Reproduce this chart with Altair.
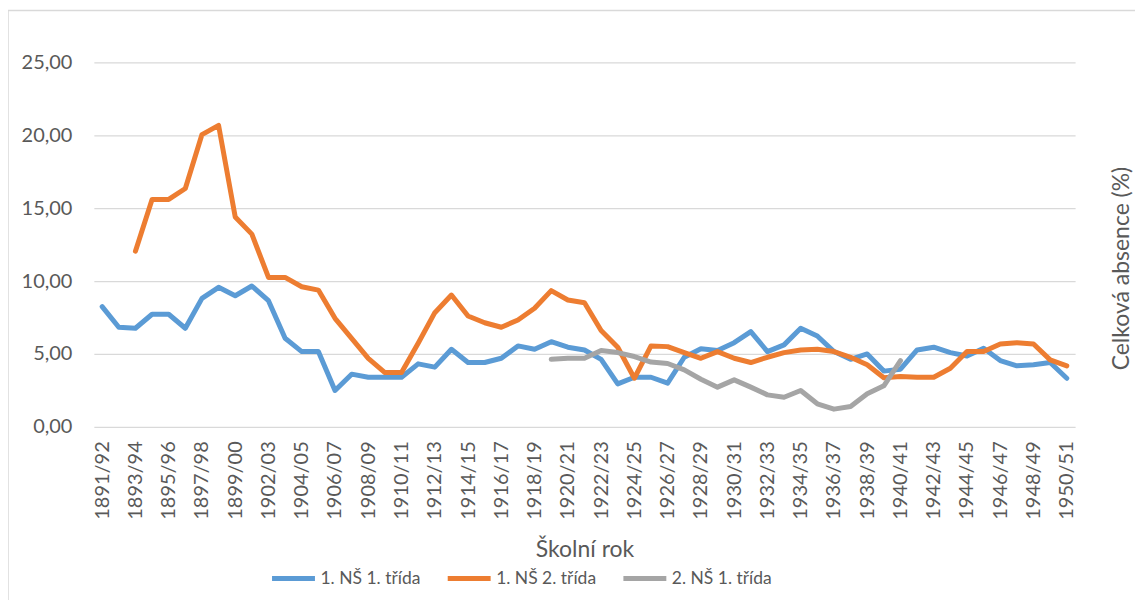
import altair as alt
import pandas as pd

years = ["1891/92", "1892/93", "1893/94", "1894/95", "1895/96", "1896/97", "1897/98", "1898/99",
         "1899/00", "1900/01"] + [f"{y}/{str(y + 1)[-2:]}" for y in range(1902, 1951)]

series_names = ["1. NŠ 1. třída", "1. NŠ 2. třída", "2. NŠ 1. třída"]
series_colors = ["#5B9BD5", "#ED7D31", "#A5A5A5"]

ns1_t1 = [8.24, 6.83, 6.76, 7.72, 7.72, 6.76, 8.81, 9.57, 8.99, 9.66,
          8.65, 6.07, 5.16, 5.16, 2.49, 3.61, 3.40, 3.40, 3.40, 4.32,
          4.09, 5.32, 4.41, 4.41, 4.70, 5.55, 5.32, 5.84, 5.46, 5.27,
          4.63, 2.94, 3.40, 3.40, 2.99, 4.77, 5.36, 5.23, 5.77, 6.53,
          5.16, 5.62, 6.76, 6.23, 5.16, 4.63, 5.00, 3.82, 3.95, 5.27,
          5.46, 5.09, 4.86, 5.39, 4.54, 4.18, 4.25, 4.41, 3.33]

ns1_t2 = [None, None, 12.05, 15.60, 15.60, 16.35, 20.05, 20.68, 14.40, 13.22,
          10.25, 10.25, 9.61, 9.38, 7.44, 6.07, 4.70, 3.72, 3.72, 5.73,
          7.83, 9.04, 7.60, 7.14, 6.83, 7.33, 8.13, 9.34, 8.70, 8.51,
          6.60, 5.46, 3.33, 5.55, 5.50, 5.09, 4.70, 5.16, 4.70, 4.41,
          4.77, 5.09, 5.27, 5.32, 5.16, 4.77, 4.25, 3.36, 3.45, 3.40,
          3.40, 4.02, 5.16, 5.16, 5.68, 5.77, 5.68, 4.59, 4.18]

ns2_t1 = [None] * 27 + [4.63, 4.70, 4.70, 5.23, 5.09, 4.82, 4.44, 4.34, 3.90,
                        3.26, 2.72, 3.22, 2.72, 2.19, 2.03, 2.49, 1.58, 1.21, 1.39,
                        2.26, 2.81, 4.54] + [None] * 10

rows = []
for name, vals in zip(series_names, [ns1_t1, ns1_t2, ns2_t1]):
    for i, (yr, v) in enumerate(zip(years, vals)):
        if v is not None:
            rows.append({"rok": yr, "hodnota": v, "serie": name, "ord": series_names.index(name)})
df = pd.DataFrame(rows)

W, H = 983, 365
FONT = "Lato"
TXT = "#595959"

lines = alt.Chart(df).mark_line(strokeWidth=5, strokeCap="round", strokeJoin="round").encode(
    x=alt.X("rok:N", sort=years, scale=alt.Scale(domain=years),
            axis=alt.Axis(values=years[::2], labelAngle=-90, labelFont=FONT, labelFontSize=20,
                          labelColor=TXT, labelPadding=14, ticks=False, domain=False, grid=False,
                          title="Školní rok", titleFont=FONT, titleFontSize=23, titleColor=TXT,
                          titleFontWeight="normal", titleY=123, titleBaseline="middle")),
    y=alt.Y("hodnota:Q", scale=alt.Scale(domain=[0, 25], nice=False),
            axis=alt.Axis(values=[0, 5, 10, 15, 20, 25],
                          labelExpr="replace(format(datum.value, '.2f'), '.', ',')",
                          labelFont=FONT, labelFontSize=20, labelColor=TXT, labelPadding=22,
                          ticks=False, domain=False, gridColor="#d9d9d9", gridWidth=1.3,
                          title="Celková absence (%)", titleFont=FONT, titleFontSize=23,
                          titleColor=TXT, titleFontWeight="normal", titleAngle=270,
                          titleX=1029, titleY=206, titleAlign="center", titleBaseline="middle")),
    color=alt.Color("serie:N", scale=alt.Scale(domain=series_names, range=series_colors),
                    legend=alt.Legend(orient="none", legendX=176, legendY=493, direction="horizontal",
                                      title=None, symbolType="stroke", symbolStrokeWidth=5,
                                      symbolSize=1849, labelFont=FONT, labelFontSize=17.5,
                                      labelColor=TXT, columnPadding=16, labelOffset=3)),
    order=alt.Order("ord:Q"),
)

border = alt.Chart(pd.DataFrame({"a": [0]})).mark_rect(filled=False, stroke="#d9d9d9", strokeWidth=1.5).encode(
    x=alt.value(-86), x2=alt.value(W + 200), y=alt.value(-52), y2=alt.value(H + 300)
)

chart = alt.layer(border, lines).properties(
    width=W, height=H,
    autosize=alt.AutoSizeParams(type="none"),
    padding={"left": 86, "top": 54, "right": 60, "bottom": 173},
    view=alt.ViewBackground(stroke=None, strokeWidth=0),
).configure(
    background="white",
    view=alt.ViewConfig(stroke=None, strokeWidth=0),
)

chart.save("out.html", embed_options={"renderer": "svg", "actions": False})
